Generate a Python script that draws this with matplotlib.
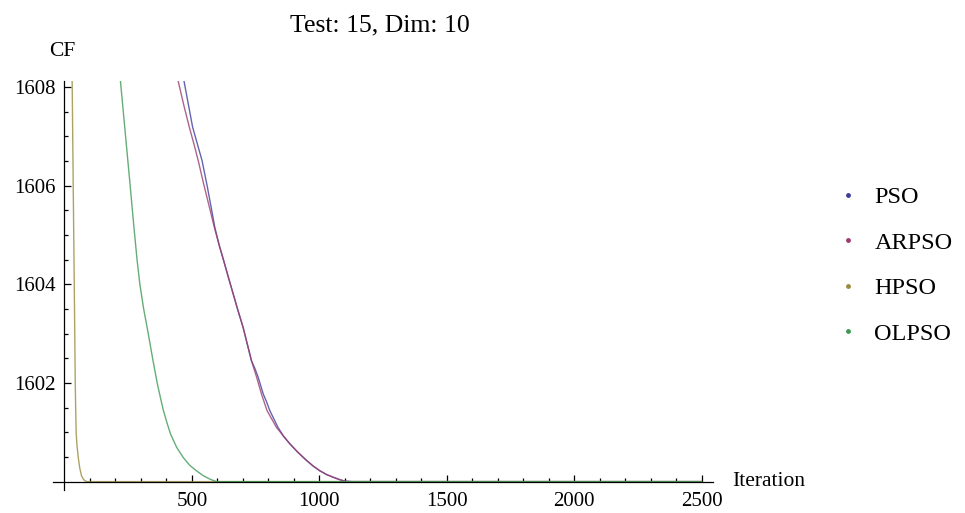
import matplotlib
matplotlib.use("Agg")
import matplotlib.pyplot as plt
from matplotlib.lines import Line2D
from matplotlib.ticker import FixedLocator

plt.rcParams['font.family'] = ['Liberation Serif', 'DejaVu Serif']

# ---- data ----
series_names = ["PSO", "ARPSO", "HPSO", "OLPSO"]

pso_iter = [440, 469, 503, 540, 560, 578, 590, 607, 625, 643, 662, 681, 701,
            718, 734, 747, 760, 780, 793, 806, 838, 860, 884, 915, 950, 975, 1002,
            1030, 1054, 1080, 1100, 1130, 2500]
pso_cf = [1609.0, 1608.13, 1607.19, 1606.51, 1606.0, 1605.5, 1605.16,
          1604.8, 1604.48, 1604.15, 1603.81, 1603.47, 1603.13, 1602.78, 1602.45, 1602.3,
          1602.12, 1601.78, 1601.62, 1601.44, 1601.10, 1600.92, 1600.77, 1600.6, 1600.43,
          1600.32, 1600.22, 1600.14, 1600.09, 1600.04, 1600.01, 1600.0, 1600.0]

arpso_iter = [425, 446, 470, 490, 508, 525, 548, 572, 588, 607, 625, 643, 662, 681, 701,
              718, 734, 754, 773, 795, 832, 860, 884, 915, 950, 975, 1002, 1030, 1054,
              1080, 1100, 1120, 2500]
arpso_cf = [1609.0, 1608.13, 1607.6, 1607.19, 1606.85, 1606.51, 1606.0, 1605.5, 1605.16,
            1604.8, 1604.48, 1604.15, 1603.81, 1603.47, 1603.13, 1602.78, 1602.45, 1602.12,
            1601.78, 1601.44, 1601.10, 1600.92, 1600.77, 1600.6, 1600.43, 1600.32, 1600.22,
            1600.14, 1600.09, 1600.04, 1600.01, 1600.0, 1600.0]

hpso_iter = [20, 30, 34.5, 38.6, 42.5, 44.5, 46, 49, 54, 60, 67, 74, 80, 88, 2500]
hpso_cf = [1612.0, 1608.3, 1606.0, 1604.0, 1602.0, 1601.4, 1601.0, 1600.75, 1600.5,
           1600.28, 1600.12, 1600.05, 1600.02, 1600.0, 1600.0]

olpso_iter = [204, 222, 240, 258, 272, 285, 296, 311, 329, 346, 364, 376, 388, 402, 416, 440,
              466, 492, 518, 545, 571, 597, 2500]
olpso_cf = [1609.0, 1608.0, 1607.0, 1606.0, 1605.2, 1604.5, 1604.0, 1603.5, 1603.0, 1602.5,
            1602.0, 1601.72, 1601.45, 1601.2, 1600.97, 1600.7, 1600.49, 1600.33, 1600.22,
            1600.12, 1600.05, 1600.0, 1600.0]

x_major = [500, 1000, 1500, 2000, 2500]
x_minor = [100, 200, 300, 400, 600, 700, 800, 900, 1100, 1200, 1300, 1400, 1600, 1700,
           1800, 1900, 2100, 2200, 2300, 2400]
y_major = [1602, 1604, 1606, 1608]
y_minor = [1600.5, 1601, 1601.5, 1602.5, 1603, 1603.5, 1604.5, 1605, 1605.5, 1606.5,
           1607, 1607.5]

colors = [(0.247, 0.24, 0.6), (0.6, 0.24, 0.443), (0.6, 0.547, 0.24), (0.24, 0.6, 0.337)]

# ---- figure ----
W, H = 965, 513
fig = plt.figure(figsize=(W / 100, H / 100), dpi=100)
ax = fig.add_axes([52.7 / W, 1 - 490 / H, (713 - 52.7) / W, (490 - 80.7) / H])

data = [(pso_iter, pso_cf), (arpso_iter, arpso_cf), (hpso_iter, hpso_cf), (olpso_iter, olpso_cf)]
for (xs, ys), c, name in zip(data, colors, series_names):
    ax.plot(xs, ys, color=c, lw=1.0, alpha=0.8, label=name, clip_on=True)

ax.set_xlim(-46, 2545)
ax.set_ylim(1599.83, 1608.13)

for s in ["top", "right"]:
    ax.spines[s].set_visible(False)
ax.spines["left"].set_position(("data", 0))
ax.spines["bottom"].set_position(("data", 1600))
for s in ["left", "bottom"]:
    ax.spines[s].set_linewidth(0.9)
    ax.spines[s].set_zorder(3)

ax.xaxis.set_major_locator(FixedLocator(x_major))
ax.xaxis.set_minor_locator(FixedLocator(x_minor))
ax.yaxis.set_major_locator(FixedLocator(y_major))
ax.yaxis.set_minor_locator(FixedLocator(y_minor))
ax.set_xticklabels([str(v) for v in x_major])
ax.set_yticklabels([str(v) for v in y_major])
ax.tick_params(which="both", direction="in", width=0.9, labelsize=15)
ax.tick_params(which="major", length=5)
ax.tick_params(which="minor", length=3.2)
ax.tick_params(axis="x", pad=7.5)
ax.tick_params(axis="y", pad=6.5)

fig.text(379.5 / W, 1 - 25 / H, "Test: 15, Dim: 10", ha="center", va="center", fontsize=18.5)
fig.text(62.7 / W, 1 - 52 / H, "CF", ha="center", va="center", fontsize=15.5)
fig.text(731.7 / W, 1 - 481 / H, "Iteration", ha="left", va="center", fontsize=15.5)

handles = [Line2D([], [], marker="o", linestyle="none", markersize=3.5, color=c,
                  markeredgewidth=0) for c in colors]
fig.legend(handles, series_names, loc="upper left", bbox_to_anchor=(838 / W, 1 - 186 / H),
           frameon=False, fontsize=17.5, handlelength=0.8, handletextpad=0.7,
           labelspacing=0.97, borderpad=0, borderaxespad=0)

fig.savefig("out.png", dpi=100)
